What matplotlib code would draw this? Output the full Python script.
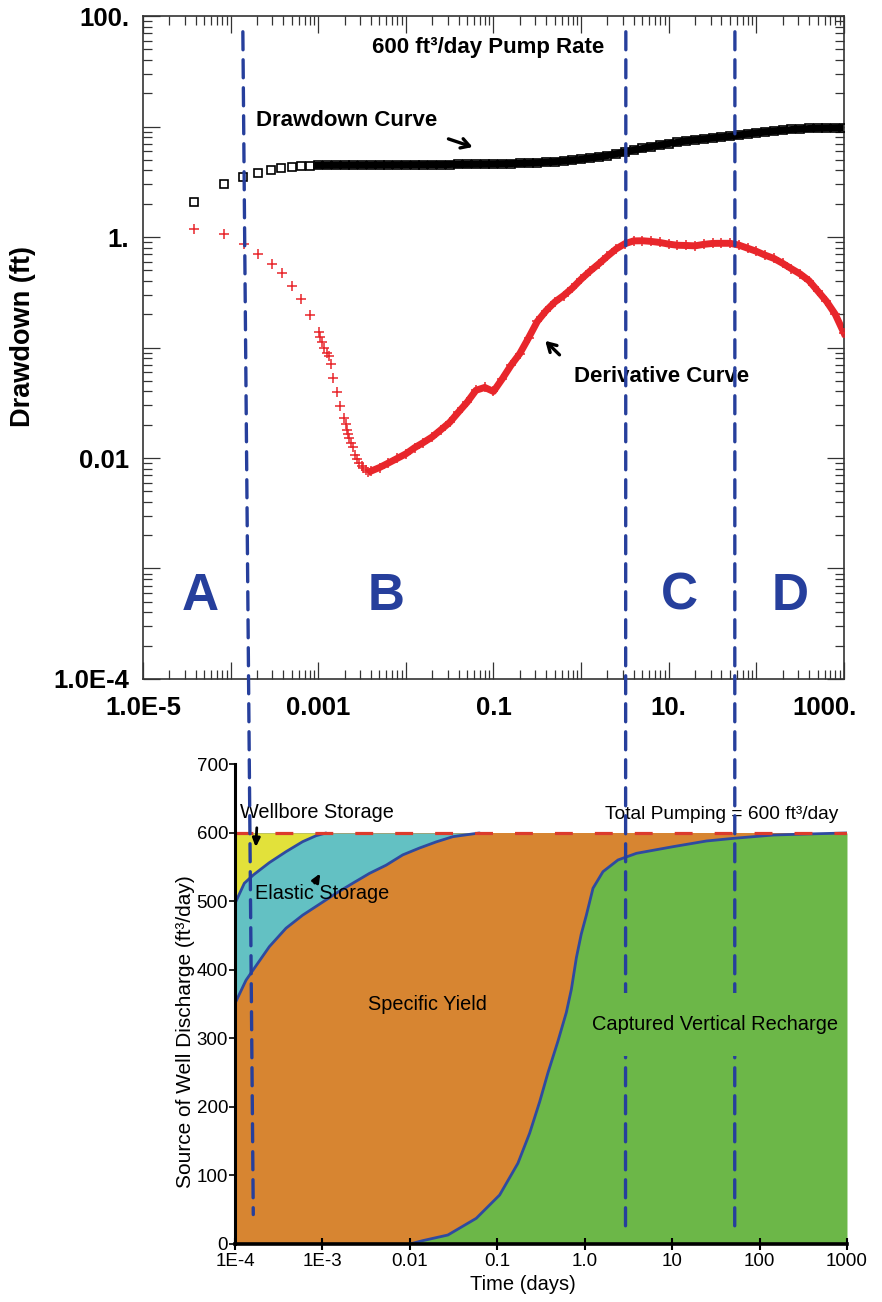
import numpy as np
import matplotlib.pyplot as plt
from matplotlib.patches import ConnectionPatch
from matplotlib.ticker import FixedLocator, LogLocator, NullFormatter
from matplotlib.transforms import ScaledTranslation

plt.rcParams['font.family'] = 'Liberation Sans'

# ---- pumping test record (log10 of time in days, drawdown in ft) ----
dd_logt = [-4.414, -4.075, -3.855, -3.691, -3.542, -3.425, -3.303, -3.200, -3.094,
           -3.0, -2.9, -2.8, -2.7, -2.6, -2.5, -2.4, -2.3, -2.2, -2.1,
           -2.0, -1.9, -1.8, -1.7, -1.6, -1.5, -1.4, -1.3, -1.2, -1.1,
           -1.0, -0.9, -0.8, -0.7, -0.6, -0.5, -0.4, -0.3, -0.2, -0.1,
           0.0, 0.1, 0.2, 0.3, 0.4, 0.5, 0.6, 0.7, 0.8, 0.9,
           1.0, 1.1, 1.2, 1.3, 1.4, 1.5, 1.6, 1.7, 1.8, 1.9,
           2.0, 2.1, 2.2, 2.3, 2.4, 2.5, 2.6, 2.7, 2.8, 2.9, 3.0]
dd_ft = [2.09, 3.00, 3.47, 3.77, 4.06, 4.19, 4.30, 4.42, 4.42,
         4.45, 4.46, 4.47, 4.47, 4.48, 4.48, 4.48, 4.49, 4.49, 4.50,
         4.50, 4.51, 4.51, 4.52, 4.52, 4.53, 4.54, 4.55, 4.56, 4.57,
         4.58, 4.60, 4.62, 4.64, 4.67, 4.70, 4.75, 4.80, 4.88, 4.95,
         5.05, 5.18, 5.30, 5.45, 5.65, 5.88, 6.12, 6.33, 6.55, 6.78,
         7.00, 7.20, 7.42, 7.58, 7.70, 7.88, 8.03, 8.15, 8.35, 8.58,
         8.75, 8.95, 9.08, 9.25, 9.40, 9.50, 9.60, 9.65, 9.70, 9.73, 9.76]
dd_dense_from = 9

der_logt = [-4.414, -4.072, -3.844, -3.684, -3.531, -3.417, -3.296, -3.196, -3.090,
            -2.987, -2.976, -2.960, -2.934, -2.903, -2.873, -2.854, -2.834, -2.785,
            -2.748, -2.705, -2.688, -2.675, -2.660, -2.645, -2.626, -2.606, -2.580,
            -2.557, -2.531, -2.506, -2.485, -2.454, -2.428,
            -2.4, -2.3, -2.2, -2.1, -2.0, -1.9, -1.8, -1.7, -1.6, -1.5,
            -1.4, -1.3, -1.2, -1.1, -1.0, -0.9, -0.8, -0.7, -0.6, -0.5,
            -0.4, -0.3, -0.2, -0.1, 0.0, 0.1, 0.2, 0.3, 0.4, 0.5,
            0.6, 0.7, 0.8, 0.9, 1.0, 1.1, 1.2, 1.3, 1.4, 1.5,
            1.6, 1.7, 1.8, 1.9, 2.0, 2.1, 2.2, 2.3, 2.4, 2.5,
            2.6, 2.7, 2.8, 2.9, 3.0]
der_ft = [1.17, 1.06, 0.865, 0.70, 0.573, 0.469, 0.362, 0.275, 0.198,
          0.139, 0.125, 0.113, 0.0984, 0.089, 0.0838, 0.0705, 0.0533, 0.0394,
          0.0296, 0.0230, 0.0203, 0.0179, 0.0165, 0.0151, 0.0138, 0.0126, 0.0106,
          0.0098, 0.00895, 0.00847, 0.00807, 0.00771, 0.00752,
          0.0076, 0.0082, 0.0090, 0.0099, 0.0109, 0.0124, 0.0138, 0.0155, 0.0180, 0.0210,
          0.0260, 0.0320, 0.0410, 0.0435, 0.0400, 0.0520, 0.0690, 0.0880, 0.122, 0.172,
          0.215, 0.258, 0.295, 0.345, 0.415, 0.490, 0.570, 0.670, 0.780, 0.870,
          0.922, 0.925, 0.912, 0.892, 0.862, 0.842, 0.838, 0.832, 0.858, 0.875,
          0.877, 0.877, 0.845, 0.792, 0.742, 0.685, 0.640, 0.578, 0.516, 0.463,
          0.403, 0.325, 0.262, 0.200, 0.135]
der_dense_from = 33

# ---- sources of well discharge (log10 of time in days, ft3/day) ----
total_pumping = 600
time_span = [1e-4, 1e3]
wellbore_logt = [-4.0, -3.893, -3.790, -3.607, -3.416, -3.226, -3.072, -2.958]
wellbore_q = [497, 526.6, 538.7, 556.7, 572.7, 587.3, 596, 600]
elastic_logt = [-4.0, -3.874, -3.779, -3.607, -3.416, -3.226, -3.034, -2.843, -2.653,
                -2.462, -2.271, -2.081, -1.890, -1.698, -1.508, -1.317, -1.203]
elastic_q = [351, 385, 402.5, 434, 461, 480, 496, 512, 526.6,
             541, 553, 568, 578, 587, 594.6, 598, 600]
recharge_logt = [-2.0, -1.852, -1.565, -1.240, -0.973, -0.764, -0.630, -0.514, -0.420,
                 -0.306, -0.210, -0.152, -0.095, -0.040, 0.019, 0.095, 0.209, 0.381,
                 0.592, 1.011, 1.393, 1.714, 2.156, 2.538, 3.0]
recharge_q = [0, 4.9, 13.1, 37.5, 71.5, 117.8, 161.6, 208, 250,
              296, 338, 372, 418, 452, 480, 519.3, 543.5, 560.6,
              570.3, 580, 588.3, 592.3, 597, 598.5, 600]

# period boundaries A|B, B|C, C|D (days) on each panel
bound_top_t = [1.38e-4, 3.24, 56.9]
bound_bot_t = [1.62e-4, 2.93, 52.0]
bound_bot_q = [43, 13, 13]
period_labels = ['A', 'B', 'C', 'D']
period_x = [0.082, 0.347, 0.765, 0.923]

blue = '#263f9c'
red = '#e8262b'
green = '#6cb748'

fig = plt.figure(figsize=(8.82, 13.02), dpi=100)

# ---------------- drawdown / derivative log-log plot ----------------
ax1 = fig.add_axes([0.1621, 0.4785, 0.7948, 0.5092])
t_dd = 10 ** np.array(dd_logt)
t_der = 10 ** np.array(der_logt)
s_dd = np.array(dd_ft)
s_der = np.array(der_ft)

ax1.plot(t_dd[dd_dense_from:], s_dd[dd_dense_from:], color='k', lw=5, zorder=2)
ax1.plot(t_dd, s_dd, ls='none', marker='s', ms=6.2, mfc='none', mec='k', mew=1.2, zorder=3)
ax1.plot(t_der[der_dense_from:], s_der[der_dense_from:], color=red, lw=5, zorder=2)
ax1.plot(t_der, s_der, ls='none', marker='+', ms=7.5, mec=red, mew=1.1, zorder=3)

ax1.set_xscale('log')
ax1.set_yscale('log')
ax1.set_xlim(1e-5, 1e3)
ax1.set_ylim(1e-4, 1e2)

xmaj = [1e-5, 1e-4, 1e-3, 1e-2, 1e-1, 1, 10, 100, 1000]
ymaj = [1e-4, 1e-3, 1e-2, 1e-1, 1, 10, 100]
ax1.xaxis.set_major_locator(FixedLocator(xmaj))
ax1.yaxis.set_major_locator(FixedLocator(ymaj))
ax1.set_xticklabels(['1.0E-5', '', '0.001', '', '0.1', '', '10.', '', '1000.'])
ax1.set_yticklabels(['1.0E-4', '', '0.01', '', '1.', '', '100.'])
ax1.xaxis.set_minor_locator(LogLocator(base=10, subs=range(2, 10), numticks=30))
ax1.yaxis.set_minor_locator(LogLocator(base=10, subs=range(2, 10), numticks=30))
ax1.xaxis.set_minor_formatter(NullFormatter())
ax1.yaxis.set_minor_formatter(NullFormatter())
ax1.tick_params(which='both', direction='in', top=True, right=True, color='#333333', width=0.9)
ax1.tick_params(which='major', length=12)
ax1.tick_params(which='minor', length=6.5)
ax1.tick_params(axis='x', which='major', pad=12, labelsize=18.5)
ax1.tick_params(axis='y', which='major', pad=10, labelsize=18.5)
for lab in ax1.get_xticklabels() + ax1.get_yticklabels():
    lab.set_fontweight('bold')
last = ax1.get_xticklabels()[-1]
last.set_transform(last.get_transform() + ScaledTranslation(-0.19, 0, fig.dpi_scale_trans))
for sp in ax1.spines.values():
    sp.set_color('#333333')
    sp.set_linewidth(1.2)

ax1.set_ylabel('Drawdown (ft)', fontsize=19.5, fontweight='bold')
ax1.yaxis.set_label_coords(-0.153, 0.517)

ax1.text(0.492, 0.953, '600 ft³/day Pump Rate', transform=ax1.transAxes,
         ha='center', va='center', fontsize=16, fontweight='bold')
ax1.text(0.290, 0.842, 'Drawdown Curve', transform=ax1.transAxes,
         ha='center', va='center', fontsize=16, fontweight='bold')
ax1.text(0.7397, 0.457, 'Derivative Curve', transform=ax1.transAxes,
         ha='center', va='center', fontsize=16, fontweight='bold')
ax1.annotate('', xy=(0.474, 0.801), xytext=(0.432, 0.816), xycoords='axes fraction',
             arrowprops=dict(arrowstyle='->, head_length=0.6, head_width=0.35', lw=2.4, color='k'))
ax1.annotate('', xy=(0.571, 0.513), xytext=(0.597, 0.486), xycoords='axes fraction',
             arrowprops=dict(arrowstyle='->, head_length=0.6, head_width=0.35', lw=2.4, color='k'))

for lab, x in zip(period_labels, period_x):
    ax1.text(x, 0.125, lab, transform=ax1.transAxes, ha='center', va='center',
             fontsize=37, fontweight='bold', color=blue)

# ---------------- sources of well discharge ----------------
ax2 = fig.add_axes([0.2664, 0.04455, 0.6939, 0.3683])
t_wb = 10 ** np.array(wellbore_logt)
t_el = 10 ** np.array(elastic_logt)
t_rc = 10 ** np.array(recharge_logt)

ax2.fill_between(time_span, 0, total_pumping, color='#d78531', lw=0)
ax2.fill_between(t_rc, 0, recharge_q, color=green, lw=0)
ax2.fill_between(t_el, elastic_q, total_pumping, color='#63c1c3', lw=0)
ax2.fill_between(t_wb, wellbore_q, total_pumping, color='#e2e13a', lw=0)
for t, q in [(t_wb, wellbore_q), (t_el, elastic_q), (t_rc, recharge_q)]:
    ax2.plot(t, q, color='#2e4aa0', lw=2.0, solid_capstyle='round', solid_joinstyle='round')
ax2.axhline(total_pumping, color='#db3b2c', lw=2.3, dashes=(5.6, 6.9))

ax2.set_xscale('log')
ax2.set_xlim(time_span)
ax2.set_ylim(0, 700)
ax2.xaxis.set_major_locator(FixedLocator(xmaj[1:]))
ax2.xaxis.set_minor_locator(FixedLocator([]))
ax2.set_xticklabels(['1E-4', '1E-3', '0.01', '0.1', '1.0', '10', '100', '1000'])
ax2.set_yticks(range(0, 701, 100))
ax2.tick_params(axis='x', direction='inout', length=9, width=1.5, labelsize=13.5, pad=2)
ax2.tick_params(axis='y', direction='out', length=4, width=1.2, labelsize=13.5, pad=1)
ax2.spines['top'].set_visible(False)
ax2.spines['right'].set_visible(False)
ax2.spines['left'].set_linewidth(2.2)
ax2.spines['bottom'].set_linewidth(2.6)

ax2.set_xlabel('Time (days)', fontsize=14.5)
ax2.xaxis.set_label_coords(0.47, -0.064)
ax2.set_ylabel('Source of Well Discharge (ft³/day)', fontsize=15)
ax2.yaxis.set_label_coords(-0.066, 0.442)

ax2.text(0.7958, 0.8947, 'Total Pumping = 600 ft³/day', transform=ax2.transAxes,
         ha='center', va='center', fontsize=13.8)
ax2.text(0.1338, 0.899, 'Wellbore Storage', transform=ax2.transAxes,
         ha='center', va='center', fontsize=14.3)
ax2.text(0.142, 0.7299, 'Elastic Storage', transform=ax2.transAxes,
         ha='center', va='center', fontsize=14.3)
ax2.text(0.3145, 0.4984, 'Specific Yield', transform=ax2.transAxes,
         ha='center', va='center', fontsize=14.3)
ax2.annotate('', xy=(0.0338, 0.8217), xytext=(0.0359, 0.8738), xycoords='axes fraction',
             arrowprops=dict(arrowstyle='-|>, head_length=0.5, head_width=0.22', lw=2, color='k'))
ax2.annotate('', xy=(0.1417, 0.7779), xytext=(0.1279, 0.7477), xycoords='axes fraction',
             arrowprops=dict(arrowstyle='-|>, head_length=0.5, head_width=0.22', lw=2, color='k'))

# period boundaries run through both panels
for tt, tb, qb in zip(bound_top_t, bound_bot_t, bound_bot_q):
    con = ConnectionPatch(xyA=(tt, 72), coordsA=ax1.transData,
                          xyB=(tb, qb), coordsB=ax2.transData,
                          color=blue, lw=2.4, linestyle=(0, (5.4, 3.0)), zorder=3)
    fig.add_artist(con)

# label on a tall green box (blank lines above/below) so the boundary dashes stop around it
fig.text(0.7848, 0.4567, '\nCaptured Vertical Recharge\n', transform=ax2.transAxes,
         ha='center', va='center', fontsize=14.4, linespacing=1.0, zorder=5,
         bbox=dict(boxstyle='square,pad=0.15', fc=green, ec='none'))

fig.savefig('out.png', dpi=100)
